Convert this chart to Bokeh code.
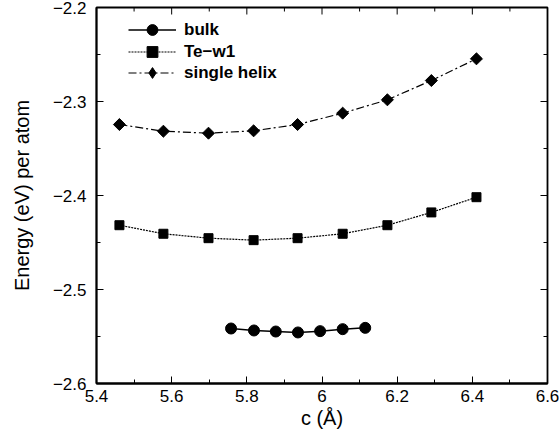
import math
from bokeh.plotting import figure
from bokeh.models import FixedTicker, Legend, LegendItem
from bokeh.embed import file_html
from bokeh.resources import INLINE

# Data
bulk_c = [5.758, 5.819, 5.877, 5.936, 5.995, 6.055, 6.115]
bulk_e = [-2.5415, -2.5436, -2.5447, -2.5457, -2.5443, -2.5422, -2.5408]

tew1_c = [5.461, 5.578, 5.698, 5.818, 5.935, 6.055, 6.174, 6.291, 6.411]
tew1_e = [-2.4316, -2.4407, -2.4454, -2.4475, -2.4454, -2.4407, -2.4316, -2.4180, -2.4018]

helix_c = [5.461, 5.578, 5.698, 5.818, 5.935, 6.055, 6.174, 6.291, 6.411]
helix_e = [-2.3245, -2.3316, -2.3337, -2.3312, -2.3245, -2.3124, -2.2982, -2.2777, -2.2546]

series_labels = ["bulk", "Te\u2212w1", "single helix"]

x_ticks = [5.4, 5.6, 5.8, 6.0, 6.2, 6.4, 6.6]
x_tick_labels = ["5.4", "5.6", "5.8", "6", "6.2", "6.4", "6.6"]
y_ticks = [-2.6, -2.5, -2.4, -2.3, -2.2]
y_tick_labels = ["\u22122.6", "\u22122.5", "\u22122.4", "\u22122.3", "\u22122.2"]
x_minor = [5.5, 5.7, 5.9, 6.1, 6.3, 6.5]
y_minor = [-2.55, -2.45, -2.35, -2.25]

FONT = "Liberation Sans"
X0, X1 = 5.4, 6.6
Y0, Y1 = -2.6, -2.2

p = figure(width=559, height=435, output_backend="svg", toolbar_location=None,
           x_range=(X0, X1), y_range=(Y0, Y1),
           min_border_left=96, min_border_right=12, min_border_top=7, min_border_bottom=52,
           x_axis_label="c (\u00c5)", y_axis_label="Energy (eV) per atom")
p.grid.visible = False
p.outline_line_color = "black"
p.outline_line_width = 1.8
p.background_fill_color = "white"
p.border_fill_color = "white"

def style_axis(ax, ticks, minor, labels):
    ax.ticker = FixedTicker(ticks=ticks, minor_ticks=minor)
    ax.major_tick_in = 7
    ax.major_tick_out = 0
    ax.minor_tick_in = 4
    ax.minor_tick_out = 0
    ax.major_tick_line_color = "black"
    ax.minor_tick_line_color = "black"
    ax.axis_line_color = "black"
    ax.axis_line_width = 1.8
    ax.major_label_overrides = {t: l for t, l in zip(ticks, labels)}
    ax.major_label_text_font = FONT
    ax.major_label_text_font_size = "17px"
    ax.major_label_text_color = "black"
    ax.axis_label_text_font = FONT
    ax.axis_label_text_font_size = "20px"
    ax.axis_label_text_font_style = "normal"
    ax.axis_label_text_color = "black"

xax = p.xaxis[0]
yax = p.yaxis[0]
style_axis(xax, x_ticks, x_minor, x_tick_labels)
style_axis(yax, y_ticks, y_minor, y_tick_labels)
xax.major_label_standoff = 6
yax.major_label_standoff = 10
xax.axis_label_standoff = 2
yax.axis_label_standoff = 17

# mirrored ticks on top and right edges (dash markers clipped by the frame)
p.scatter(x_ticks, [Y1] * len(x_ticks), marker="dash", angle=math.pi / 2, size=14, line_color="black")
p.scatter(x_minor, [Y1] * len(x_minor), marker="dash", angle=math.pi / 2, size=8, line_color="black")
p.scatter([X1] * len(y_ticks), y_ticks, marker="dash", size=14, line_color="black")
p.scatter([X1] * len(y_minor), y_minor, marker="dash", size=8, line_color="black")

r_bl = p.line(bulk_c, bulk_e, line_color="black", line_width=1.5)
r_bm = p.scatter(bulk_c, bulk_e, marker="circle", size=11, fill_color="black", line_color="black")
r_tl = p.line(tew1_c, tew1_e, line_color="black", line_width=1.2, line_dash="2 1")
r_tm = p.scatter(tew1_c, tew1_e, marker="square", size=9, fill_color="black", line_color="black")
r_hl = p.line(helix_c, helix_e, line_color="black", line_width=1.2, line_dash="8 3 2 3")
r_hm = p.scatter(helix_c, helix_e, marker="square", angle=math.pi / 4, size=8.5,
                 fill_color="black", line_color="black")
# legend-only diamond symbol (legend glyphs ignore marker angle)
r_hd = p.scatter(helix_c, helix_e, marker="diamond", size=13, fill_color="black",
                 line_color="black", visible=False)

groups = [[r_bl, r_bm], [r_tl, r_tm], [r_hl, r_hd]]
offsets = [340, 318, 297]
for label, rends, vy in zip(series_labels, groups, offsets):
    leg = Legend(items=[LegendItem(label=label, renderers=rends)],
                 location=(32, vy), margin=0, padding=0, spacing=0,
                 glyph_width=48, glyph_height=27, label_height=16, label_standoff=8,
                 border_line_color=None, background_fill_alpha=0,
                 label_text_font=FONT, label_text_font_size="17px",
                 label_text_font_style="bold", label_text_color="black")
    p.add_layout(leg)

open("out.html", "w").write(file_html(p, INLINE))
